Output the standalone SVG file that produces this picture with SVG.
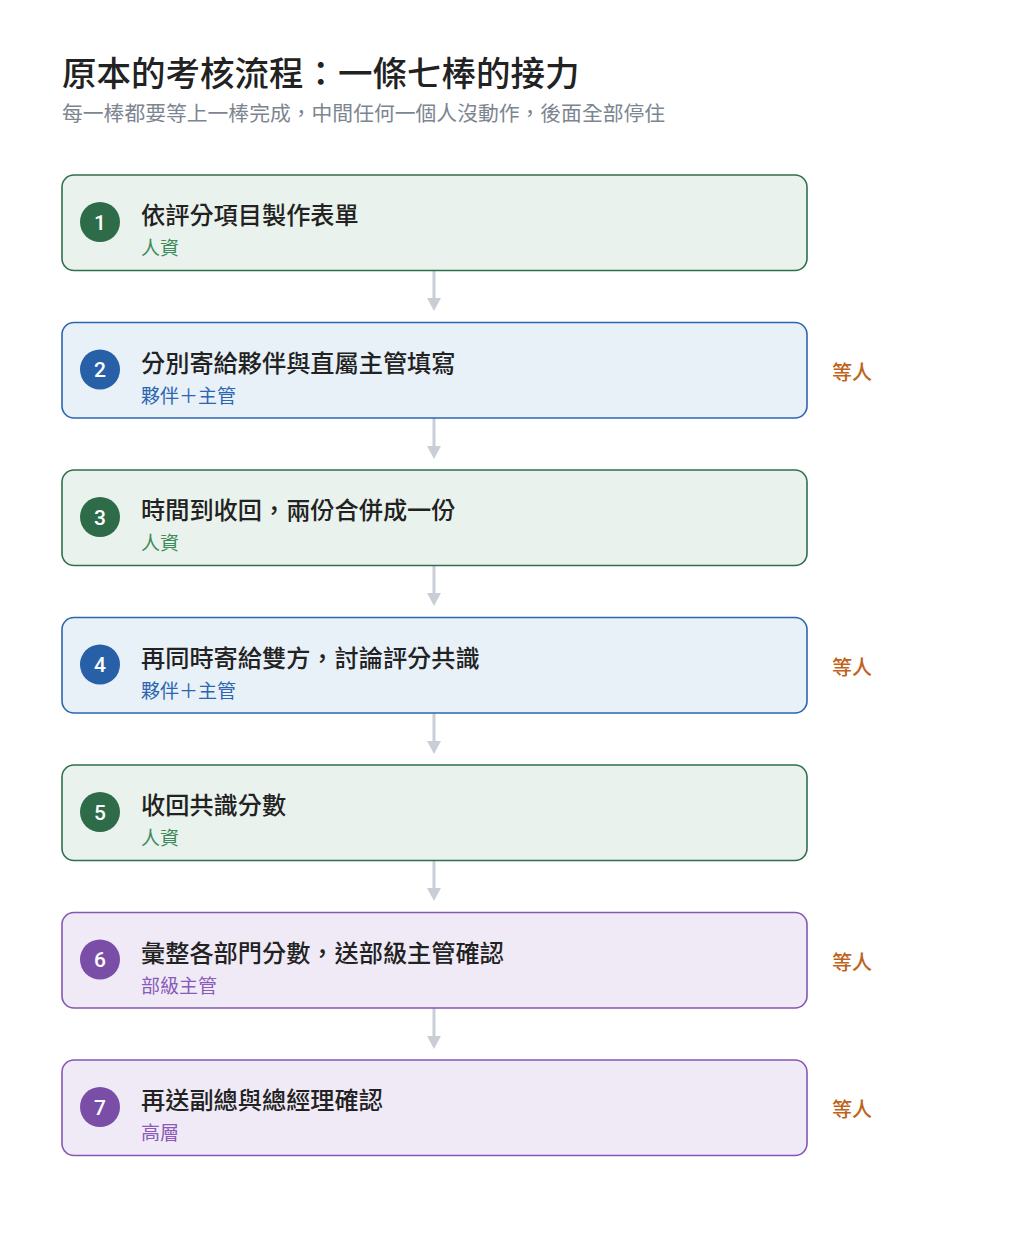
<svg xmlns="http://www.w3.org/2000/svg" width="1024" height="1250" viewBox="0 0 1024 1250">
<defs>
<style>
text{font-family:"Noto Sans CJK TC","Noto Sans CJK SC",sans-serif;}
.h1{font-size:34.5px;font-weight:500;fill:#222;}
.h2{font-size:20.8px;fill:#7d8590;}
.box{stroke-width:1.6;}
.g .box{fill:#e9f2ec;stroke:#2f6f4c;}
.b .box{fill:#e8f0f8;stroke:#2d66b0;}
.p .box{fill:#f0eaf7;stroke:#8656b4;}
.g circle{fill:#2e6b48;}
.b circle{fill:#2760a6;}
.p circle{fill:#7a4ea6;}
.num{font-family:"Roboto","Noto Sans",sans-serif;font-size:21px;font-weight:500;fill:#fff;text-anchor:middle;}
.t{font-size:24.2px;font-weight:500;fill:#222;}
.s{font-size:19px;}
.g .s{fill:#3d8a5c;}
.b .s{fill:#2d66b0;}
.p .s{fill:#8a5bb8;}
.wait{font-size:20px;fill:#c0621a;font-weight:500;}
.c line{stroke:#c9ced6;stroke-width:3;}
.c path{fill:#c9ced6;}
</style>
</defs>
<rect width="1024" height="1250" fill="#fff"/>
<text class="h1" x="62" y="86">原本的考核流程：一條七棒的接力</text>
<text class="h2" x="62" y="121">每一棒都要等上一棒完成，中間任何一個人沒動作，後面全部停住</text>
<g class="c">
<line x1="434" y1="271" x2="434" y2="301"/><path d="M427 298 L441 298 L434 311 Z"/>
<line x1="434" y1="418" x2="434" y2="448"/><path d="M427 446 L441 446 L434 459 Z"/>
<line x1="434" y1="566" x2="434" y2="596"/><path d="M427 593 L441 593 L434 606 Z"/>
<line x1="434" y1="713" x2="434" y2="743"/><path d="M427 741 L441 741 L434 754 Z"/>
<line x1="434" y1="861" x2="434" y2="891"/><path d="M427 888 L441 888 L434 901 Z"/>
<line x1="434" y1="1008" x2="434" y2="1038"/><path d="M427 1036 L441 1036 L434 1049 Z"/>
</g>
<g id="n1" class="g">
<rect class="box" x="62" y="175" width="745" height="95.5" rx="12"/>
<circle cx="100" cy="222" r="20"/><text class="num" x="100" y="229.5">1</text>
<text class="t" x="141" y="224">依評分項目製作表單</text>
<text class="s" x="141" y="255">人資</text>
</g>
<g id="n2" class="b">
<rect class="box" x="62" y="322.5" width="745" height="95.5" rx="12"/>
<circle cx="100" cy="369.5" r="20"/><text class="num" x="100" y="377">2</text>
<text class="t" x="141" y="371.5">分別寄給夥伴與直屬主管填寫</text>
<text class="s" x="141" y="402.5">夥伴＋主管</text>
<text class="wait" x="832" y="379.5">等人</text>
</g>
<g id="n3" class="g">
<rect class="box" x="62" y="470" width="745" height="95.5" rx="12"/>
<circle cx="100" cy="517" r="20"/><text class="num" x="100" y="524.5">3</text>
<text class="t" x="141" y="519">時間到收回，兩份合併成一份</text>
<text class="s" x="141" y="550">人資</text>
</g>
<g id="n4" class="b">
<rect class="box" x="62" y="617.5" width="745" height="95.5" rx="12"/>
<circle cx="100" cy="664.5" r="20"/><text class="num" x="100" y="672">4</text>
<text class="t" x="141" y="666.5">再同時寄給雙方，討論評分共識</text>
<text class="s" x="141" y="697.5">夥伴＋主管</text>
<text class="wait" x="832" y="674.5">等人</text>
</g>
<g id="n5" class="g">
<rect class="box" x="62" y="765" width="745" height="95.5" rx="12"/>
<circle cx="100" cy="812" r="20"/><text class="num" x="100" y="819.5">5</text>
<text class="t" x="141" y="814">收回共識分數</text>
<text class="s" x="141" y="845">人資</text>
</g>
<g id="n6" class="p">
<rect class="box" x="62" y="912.5" width="745" height="95.5" rx="12"/>
<circle cx="100" cy="959.5" r="20"/><text class="num" x="100" y="967">6</text>
<text class="t" x="141" y="961.5">彙整各部門分數，送部級主管確認</text>
<text class="s" x="141" y="992.5">部級主管</text>
<text class="wait" x="832" y="969.5">等人</text>
</g>
<g id="n7" class="p">
<rect class="box" x="62" y="1060" width="745" height="95.5" rx="12"/>
<circle cx="100" cy="1107" r="20"/><text class="num" x="100" y="1114.5">7</text>
<text class="t" x="141" y="1109">再送副總與總經理確認</text>
<text class="s" x="141" y="1140">高層</text>
<text class="wait" x="832" y="1117">等人</text>
</g>
</svg>
